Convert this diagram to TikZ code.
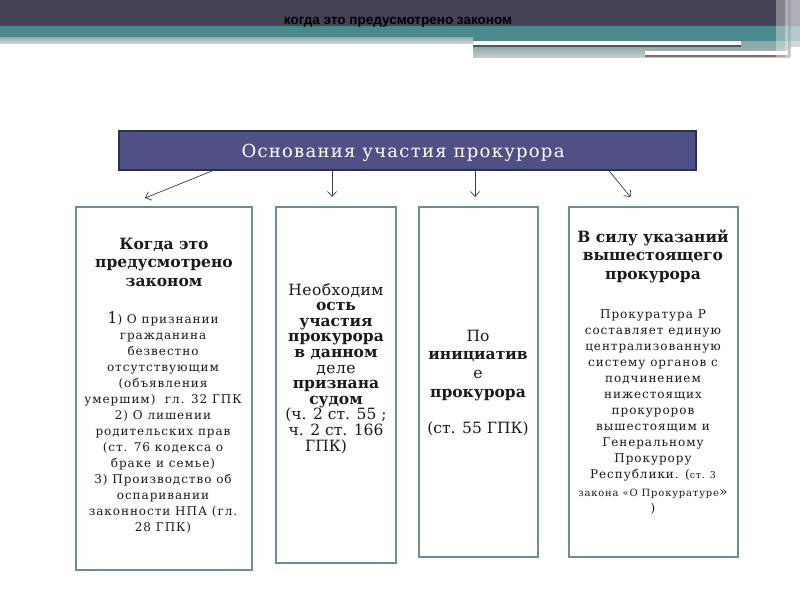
\documentclass[tikz,border=0pt]{standalone}
\usepackage{fontspec}
\setmainfont{DejaVu Serif}
\newfontfamily\bodyfont[LetterSpace=8]{DejaVu Serif}
\newfontfamily\midfont[LetterSpace=3]{DejaVu Serif}
\newfontfamily\titlefont[LetterSpace=7]{DejaVu Serif}
\newfontfamily\hdrfont{Liberation Sans}
\usetikzlibrary{arrows.meta}
\definecolor{bandc}{HTML}{434256}
\definecolor{tealc}{HTML}{4A8A8C}
\definecolor{titlefill}{HTML}{4F5186}
\definecolor{titledraw}{HTML}{2E2F4F}
\definecolor{boxdraw}{HTML}{6F8C9A}
\definecolor{arrc}{HTML}{3A3A4A}
\definecolor{txtc}{HTML}{1A1A1A}
\definecolor{stripA}{RGB}{150,170,170}
\definecolor{stripB}{RGB}{205,212,212}
\definecolor{stripC}{RGB}{140,170,170}
\definecolor{stripD}{RGB}{75,90,88}
\definecolor{stripE}{RGB}{150,168,168}
\definecolor{stripF}{RGB}{195,205,205}
\definecolor{stripG}{RGB}{120,118,108}
\tikzset{
  panel/.style={draw=boxdraw, line width=2pt, fill=white, inner sep=0pt},
  hd/.style={font=\bfseries\fontsize{15.5}{18.5}\selectfont, align=center, anchor=base, text=txtc, inner sep=0pt},
  bd/.style={font=\bodyfont\fontsize{12}{16}\selectfont, align=center, anchor=base, text=txtc, inner sep=0pt},
  mid/.style={font=\fontsize{15.5}{15.6}\selectfont, align=center, anchor=base, text=txtc, inner sep=0pt},
  arr/.style={draw=arrc, line width=0.7pt, -{Straight Barb[length=5pt,width=9pt]}},
}
\begin{document}
\begin{tikzpicture}[x=1pt,y=-1pt]
\useasboundingbox (0,0) rectangle (800,600);
\fill[white] (0,0) rectangle (800,600);
% header bands
\fill[bandc] (0,0) rectangle (800,26);
\fill[tealc] (0,26) rectangle (800,37);
\fill[tealc] (473,37) rectangle (800,41);
\shade[top color=stripA, bottom color=stripB] (0,37) rectangle (473,43);
\fill[white] (473,41) rectangle (741,45);
\fill[stripC] (741,41) rectangle (800,47);
\fill[stripD] (473,45) rectangle (741,47);
\shade[top color=stripE, bottom color=stripF] (473,47) rectangle (790,57);
\fill[white] (645,51) rectangle (788,55);
\fill[stripG] (645,55) rectangle (788,57);
\fill[white, opacity=0.35] (776,0) rectangle (800,57);
\fill[white, opacity=0.35] (785,0) rectangle (800,57);
\fill[gray, opacity=0.3] (788,0) rectangle (791,57);
\node[font=\hdrfont\bfseries\fontsize{13.5}{15}\selectfont, anchor=base, inner sep=0pt] (hdr) at (398,24) {когда это предусмотрено законом};
% title
\node[draw=titledraw, fill=titlefill, line width=1.5pt, minimum width=577pt, minimum height=39pt, inner sep=0pt] (title) at (407.5,150.5) {};
\node[font=\titlefont\fontsize{18}{20}\selectfont, text=white, anchor=base, inner sep=0pt] (titletext) at (403,157) {Основания участия прокурора};
% panels
\node[panel, minimum width=176pt, minimum height=363pt] (b1) at (164,388.5) {};
\node[panel, minimum width=120pt, minimum height=356pt] (b2) at (336,385) {};
\node[panel, minimum width=119pt, minimum height=350pt] (b3) at (478.5,382) {};
\node[panel, minimum width=169pt, minimum height=350pt] (b4) at (653.5,382) {};
% arrows
\draw[arr] ([xshift=-195pt]title.south) -- ([xshift=-19pt,yshift=8pt]b1.north);
\draw[arr] (title.south -| 332,0) -- ([xshift=-4pt,yshift=9pt]b2.north);
\draw[arr] (title.south -| 475,0) -- ([xshift=-3.5pt,yshift=9pt]b3.north);
\draw[arr] (title.south -| 609,0) -- ([xshift=-23pt,yshift=9pt]b4.north);
% panel 1 text (anchor = baseline of last line)
\node[hd] (b1h) at (164,286) {Когда это\\предусмотрено\\законом};
\node[bd] (b1t) at (163,531) {{\fontsize{16}{16}\selectfont 1}) О признании\\гражданина\\безвестно\\отсутствующим\\(объявления\\умершим)\ \ гл. 32 ГПК\\2) О лишении\\родительских прав\\(ст. 76 кодекса о\\браке и семье)\\3) Производство об\\оспаривании\\законности НПА (гл.\\28 ГПК)};
% panel 2 text
\node[mid] (b2t) at (336,451) {{\midfont Необходим}\\\textbf{ость}\\\textbf{участия}\\\textbf{прокурора}\\\textbf{в данном}\\{\midfont деле}\\\textbf{признана}\\\textbf{судом}\\(ч. 2 ст. 55 ;\\ч. 2 ст. 166\\ГПК)\hspace*{20pt}};
% panel 3 text
\node[font=\fontsize{15.5}{18.7}\selectfont, align=center, anchor=base, text=txtc, inner sep=0pt] (b3t) at (478,433) {По\\\textbf{инициатив}\\е\\\textbf{прокурора}\\[17pt](ст. 55 ГПК)};
% panel 4 text
\node[hd] (b4h) at (653,279) {В силу указаний\\вышестоящего\\прокурора};
\node[bd] (b4t) at (653,512) {Прокуратура Р\\составляет единую\\централизованную\\систему органов с\\подчинением\\нижестоящих\\прокуроров\\вышестоящим и\\Генеральному\\Прокурору\\Республики. ({\fontsize{9.5}{10}\selectfont ст. 3}\\[2pt]{\fontsize{10}{10}\selectfont закона «О Прокуратуре}{\fontsize{14}{10}\selectfont »}\\)};
\end{tikzpicture}
\end{document}
